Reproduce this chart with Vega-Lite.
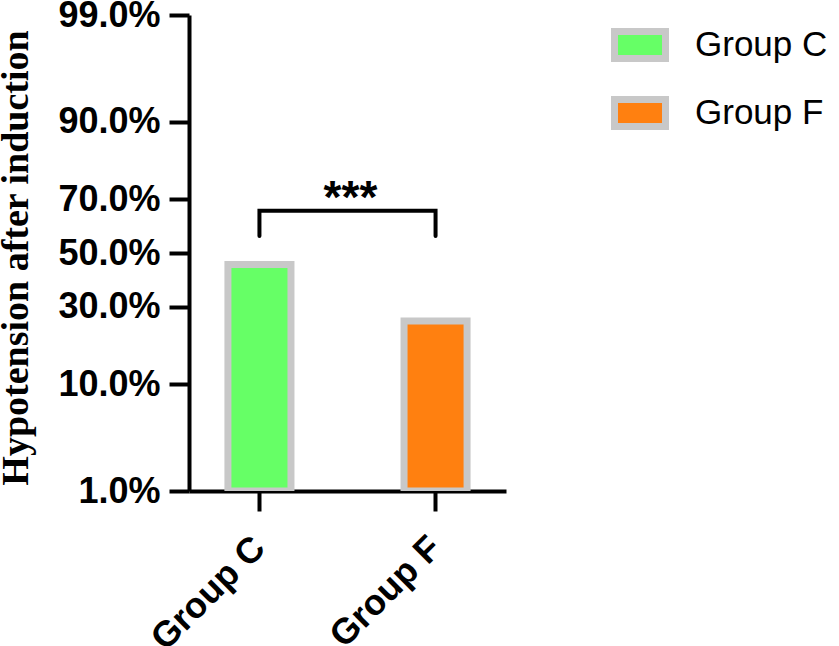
{
  "$schema": "https://vega.github.io/schema/vega-lite/v6.json",
  "width": 317,
  "height": 476,
  "autosize": {"type": "none"},
  "padding": {"left": 189, "top": 15, "right": 333, "bottom": 155},
  "background": "white",
  "config": {
    "view": {"stroke": null},
    "axis": {
      "labelFont": "Liberation Sans",
      "labelFontWeight": "bold",
      "labelFontSize": 36,
      "labelColor": "black",
      "domainColor": "black",
      "domainWidth": 4,
      "tickColor": "black",
      "tickWidth": 4,
      "tickSize": 20,
      "grid": false,
      "zindex": 1
    }
  },
  "layer": [
    {
      "data": {"values": [
        {"group": "Group C", "rate": 0.455},
        {"group": "Group F", "rate": 0.253}
      ]},
      "mark": {"type": "bar", "stroke": "#C8C8C8", "strokeWidth": 7, "width": {"band": 0.895}, "clip": true, "opacity": 1},
      "encoding": {
        "x": {
          "field": "group", "type": "nominal",
          "scale": {"paddingInner": 0.6, "paddingOuter": 0.2},
          "axis": {"title": null, "labelAngle": -45, "labelAlign": "right", "labelBaseline": "middle", "labelPadding": 31, "labelBound": false, "labelOverlap": false, "labelFlush": false}
        },
        "y": {
          "field": "rate", "type": "quantitative",
          "scale": {
            "type": "linear",
            "domain": [0.01, 0.05, 0.1, 0.2, 0.25, 0.3, 0.4, 0.45, 0.5, 0.6, 0.7, 0.8, 0.9, 0.95, 0.99],
            "range": [476, 406.3, 369.1, 324.1, 307.0, 291.65, 263.9, 250.9, 238, 212.1, 184.35, 151.9, 106.9, 69.7, 0],
            "nice": false, "zero": false
          },
          "axis": {
            "values": [0.01, 0.1, 0.3, 0.5, 0.7, 0.9, 0.99],
            "format": ".1%",
            "labelPadding": 9,
            "title": "Hypotension after induction",
            "titleFont": "Liberation Serif",
            "titleFontWeight": "bold",
            "titleFontSize": 38,
            "titleColor": "black",
            "titleAngle": 270,
            "titleAlign": "center",
            "titleBaseline": "alphabetic",
            "titleX": -162,
            "titleY": 242.5
          }
        },
        "y2": {"datum": 0.01},
        "color": {
          "field": "group", "type": "nominal",
          "scale": {"domain": ["Group C", "Group F"], "range": ["#66FF66", "#FF8010"]},
          "legend": {
            "title": null,
            "orient": "none",
            "legendX": 422,
            "legendY": 1,
            "padding": 0,
            "symbolType": "M-1,-0.53H1V0.53H-1Z",
            "symbolSize": 2601,
            "symbolStrokeColor": "#C8C8C8",
            "symbolStrokeWidth": 7,
            "symbolOpacity": 1,
            "labelFont": "Liberation Sans",
            "labelFontSize": 35,
            "labelColor": "black",
            "labelOffset": 26,
            "rowPadding": 11,
            "labelLimit": 300
          }
        }
      }
    },
    {
      "data": {"values": [
        {"group": "Group C", "level": 0.5656, "step": 1},
        {"group": "Group C", "level": 0.659, "step": 2},
        {"group": "Group F", "level": 0.659, "step": 3},
        {"group": "Group F", "level": 0.5656, "step": 4}
      ]},
      "mark": {"type": "line", "color": "black", "strokeWidth": 4, "strokeJoin": "miter", "strokeCap": "round"},
      "encoding": {
        "x": {"field": "group", "type": "nominal"},
        "y": {"field": "level", "type": "quantitative"},
        "order": {"field": "step", "type": "quantitative"}
      }
    },
    {
      "data": {"values": [
        {"group": "Group C", "level": 0.659, "label": "***"}
      ]},
      "mark": {"type": "text", "font": "Liberation Sans", "fontWeight": "bold", "fontSize": 46, "color": "black", "align": "center", "baseline": "alphabetic", "dx": 91, "dy": 2},
      "encoding": {
        "x": {"field": "group", "type": "nominal"},
        "y": {"field": "level", "type": "quantitative"},
        "text": {"field": "label"}
      }
    }
  ]
}
